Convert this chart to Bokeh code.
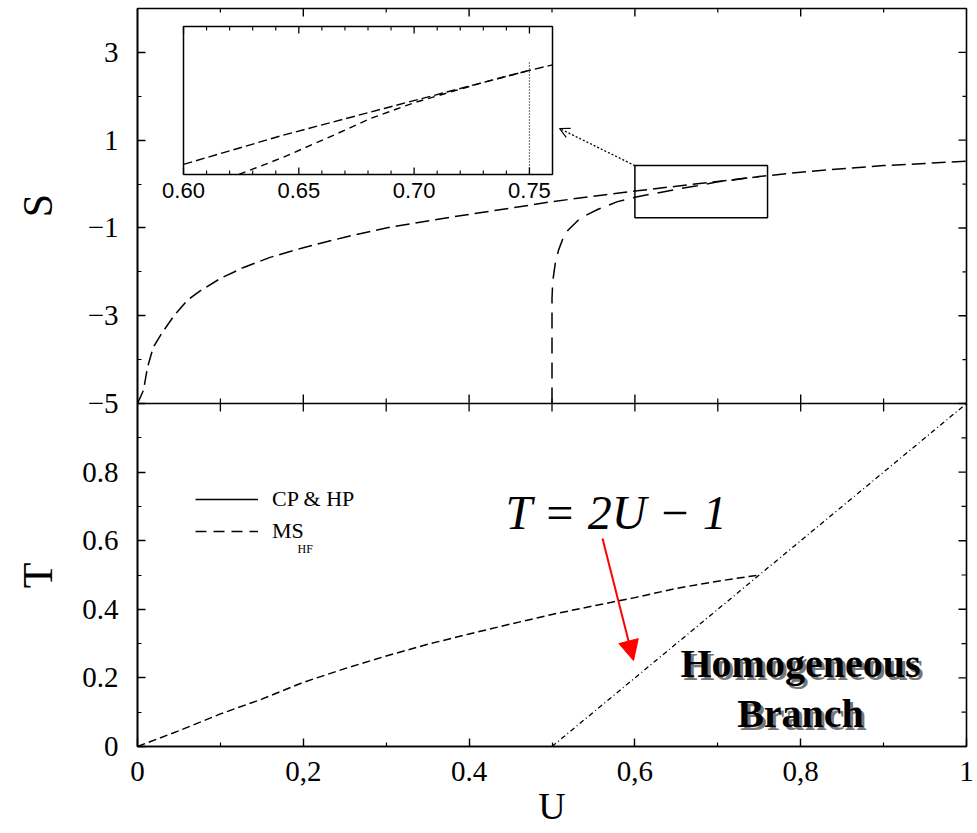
import math
from bokeh.plotting import figure
from bokeh.models import (Range1d, FixedTicker, CustomJSTickFormatter, Span, Label, Arrow,
                          NormalHead, OpenHead, Legend, LegendItem, LinearAxis)
from bokeh.core.properties import value
from bokeh.embed import file_html
from bokeh.resources import INLINE

# ---------------- data ----------------
# top panel: S versus U
u_cp_top = [0.0, 0.0072, 0.012, 0.019, 0.03, 0.044, 0.06, 0.076, 0.1, 0.128, 0.16, 0.2, 0.25,
            0.3, 0.35, 0.4, 0.45, 0.5, 0.55, 0.6, 0.65, 0.7, 0.75, 0.8, 0.85, 0.9, 0.95, 1.0]
s_cp_top = [-5.0, -4.7, -4.18, -3.72, -3.38, -3.0, -2.65, -2.43, -2.15, -1.9, -1.67, -1.45, -1.21,
            -1.0, -0.84, -0.69, -0.55, -0.4, -0.28, -0.16, -0.05, 0.06, 0.17, 0.27, 0.35, 0.42, 0.47, 0.52]
u_ms_top = [0.5, 0.5, 0.501, 0.504, 0.508, 0.513, 0.519, 0.534, 0.555, 0.579, 0.6, 0.625, 0.65,
            0.675, 0.7, 0.725, 0.75]
s_ms_top = [-5.0, -2.6, -2.2, -1.8, -1.5, -1.25, -1.06, -0.78, -0.58, -0.40, -0.30, -0.21, -0.12,
            -0.04, 0.05, 0.11, 0.17]

# inset (zoom of 0.60 <= U <= 0.76)
u_in_cp = [0.60, 0.643, 0.687, 0.73, 0.75, 0.76]
s_in_cp = [-0.163, -0.057, 0.041, 0.136, 0.18, 0.20]
u_in_ms = [0.624, 0.643, 0.665, 0.681, 0.70, 0.73, 0.75]
s_in_ms = [-0.20, -0.138, -0.057, 0.004, 0.062, 0.136, 0.18]
u_in_vline = 0.75
s_in_vline_top = 0.21
inset_u = (0.60, 0.76)
inset_s = (-0.20, 0.34)
inset_ticks = [0.60, 0.65, 0.70, 0.75]
inset_tick_labels = ["0.60", "0.65", "0.70", "0.75"]
inset_minor = [0.61, 0.62, 0.63, 0.64, 0.66, 0.67, 0.68, 0.69, 0.71, 0.72, 0.73, 0.74]
zoom_box_u = (0.60, 0.76)
zoom_box_s = (-0.77, 0.42)

# bottom panel: T versus U
u_cp_bot = [0.0, 0.05, 0.1, 0.15, 0.2, 0.25, 0.3, 0.35, 0.4, 0.45, 0.5, 0.55, 0.6, 0.65, 0.7, 0.75]
t_cp_bot = [0.0, 0.046, 0.095, 0.138, 0.187, 0.227, 0.264, 0.298, 0.328, 0.357, 0.385, 0.41,
            0.434, 0.461, 0.482, 0.5]
u_hom = [0.5, 1.0]
t_hom = [0.0, 1.0]

# axes ticks / labels
u_major = [0.0, 0.2, 0.4, 0.6, 0.8, 1.0]
u_major_labels = ["0", "0,2", "0.4", "0,6", "0,8", "1"]
u_minor = [0.1, 0.3, 0.5, 0.7, 0.9]
s_major = [3, 1, -1, -3, -5]
s_major_labels = ["3", "1", "\u22121", "\u22123", "\u22125"]
s_minor = [4, 2, 0, -2, -4]
t_major = [0.0, 0.2, 0.4, 0.6, 0.8]
t_major_labels = ["0", "0.2", "0.4", "0.6", "0.8"]
t_minor = [0.1, 0.3, 0.5, 0.7, 0.9]

# ---------------- layout (page pixels) ----------------
FL, FR, FT, SEP, FB = 137, 966, 8, 403, 746
FW = FR - FL
S_LO, S_HI = -5.0, 4.0
T_LO, T_HI = 0.0, 1.0
s_per_px = (S_HI - S_LO) / (SEP - FT)
t_per_px = (T_HI - T_LO) / (FB - SEP)


def t_to_main(t):
    return S_LO - (T_HI - t) / t_per_px * s_per_px


def px_u(px):
    return (px - FL) / FW


def px_s(py):
    return S_HI - (py - FT) * s_per_px


def px_t(py):
    return T_LO + (FB - py) * t_per_px


SERIF = "Liberation Serif"

p = figure(frame_width=FW, frame_height=FB - FT, output_backend="svg", toolbar_location=None,
           x_range=Range1d(0, 1), y_range=Range1d(S_LO - (FB - SEP) * s_per_px, S_HI),
           min_border_left=FL, min_border_top=FT, min_border_right=8, min_border_bottom=60)
p.extra_y_ranges = {"T": Range1d(T_LO, T_HI + (SEP - FT) * t_per_px)}

# inset ranges
IL, IR, IT, IB = 183, 552, 26, 174
ppu = (IR - IL) / (inset_u[1] - inset_u[0])
pps = (IB - IT) / (inset_s[1] - inset_s[0])
p.extra_x_ranges = {"ix": Range1d(inset_u[0] - (IL - FL) / ppu, inset_u[1] + (FR - IR) / ppu)}
p.extra_y_ranges["iy"] = Range1d(inset_s[0] - (FB - IB) / pps, inset_s[1] + (IT - FT) / pps)

p.grid.visible = False
p.outline_line_color = "black"
p.outline_line_width = 1.6
p.background_fill_color = "white"
p.border_fill_color = "white"

fmt_code = """
for (let i = 0; i < pos.length; i++) {
  if (Math.abs(pos[i] - tick) < 1e-6) { return labs[i]; }
}
return "";
"""

# left axis combining S (top) and T (bottom)
left_pos = list(s_major) + [t_to_main(t) for t in t_major]
left_labs = list(s_major_labels) + list(t_major_labels)
left_minor = list(s_minor) + [t_to_main(t) for t in t_minor]
ya = p.yaxis[0]
ya.ticker = FixedTicker(ticks=left_pos, minor_ticks=left_minor)
ya.formatter = CustomJSTickFormatter(args=dict(pos=left_pos, labs=left_labs), code=fmt_code)

xa = p.xaxis[0]
xa.ticker = FixedTicker(ticks=u_major, minor_ticks=u_minor)
xa.formatter = CustomJSTickFormatter(args=dict(pos=u_major, labs=u_major_labels), code=fmt_code)

for ax in (xa, ya):
    ax.major_tick_in = 8
    ax.major_tick_out = 0
    ax.minor_tick_in = 4
    ax.minor_tick_out = 0
    ax.axis_line_width = 1.6
    ax.major_tick_line_width = 1.4
    ax.minor_tick_line_width = 1.2
    ax.major_label_text_font = SERIF
    ax.major_label_text_font_size = "29px"
    ax.major_label_text_color = "black"
ya.major_label_standoff = 19
xa.major_label_standoff = 15
xa.axis_label = "U"
xa.axis_label_text_font = SERIF
xa.axis_label_text_font_size = "38px"
xa.axis_label_text_font_style = "normal"
xa.axis_label_text_color = "black"
xa.axis_label_standoff = 1

# outer left axis carrying the panel titles S and T
title_pos = [px_s(205), px_s(575)]
title_labs = ["S", "T"]
title_ax = LinearAxis(ticker=FixedTicker(ticks=title_pos, minor_ticks=[]),
                      formatter=CustomJSTickFormatter(args=dict(pos=title_pos, labs=title_labs),
                                                      code=fmt_code),
                      axis_line_alpha=0, major_tick_line_alpha=0, minor_tick_line_alpha=0,
                      major_tick_in=0, major_tick_out=0, minor_tick_in=0, minor_tick_out=0,
                      major_label_orientation="vertical", major_label_text_font=SERIF,
                      major_label_text_font_size="42px", major_label_text_color="black",
                      major_label_standoff=19)
p.add_layout(title_ax, "left")

# extra ticks: top edge, separator, right edge
p.ray(x=u_major[1:-1], y=[S_HI] * 4, length=8, length_units="screen", angle=-math.pi / 2,
      line_color="black", line_width=1.4)
p.ray(x=u_minor, y=[S_HI] * 5, length=4, length_units="screen", angle=-math.pi / 2,
      line_color="black", line_width=1.2)
p.ray(x=u_major[1:-1], y=[S_LO] * 4, length=9, length_units="screen", angle=math.pi / 2,
      line_color="black", line_width=1.4)
p.ray(x=u_minor, y=[S_LO] * 5, length=5, length_units="screen", angle=math.pi / 2,
      line_color="black", line_width=1.2)
p.ray(x=u_major[1:-1] + u_minor, y=[T_HI] * 9, length=8, length_units="screen", angle=-math.pi / 2,
      line_color="black", line_width=1.3, y_range_name="T")
p.ray(x=[1.0] * 5, y=s_major, length=8, length_units="screen", angle=math.pi,
      line_color="black", line_width=1.4)
p.ray(x=[1.0] * 5, y=s_minor, length=4, length_units="screen", angle=math.pi,
      line_color="black", line_width=1.2)
p.ray(x=[1.0] * 4, y=t_major[1:], length=8, length_units="screen", angle=math.pi,
      line_color="black", line_width=1.4, y_range_name="T")
p.ray(x=[1.0] * 5, y=t_minor, length=5, length_units="screen", angle=math.pi,
      line_color="black", line_width=1.2, y_range_name="T")

# separator between panels
p.add_layout(Span(location=S_LO, dimension="width", line_color="black", line_width=1.6))

# ---------------- top panel curves ----------------
p.line(u_cp_top, s_cp_top, line_color="black", line_width=1.5, line_dash="14 6")
p.line(u_ms_top, s_ms_top, line_color="black", line_width=1.5, line_dash="16 9")

# zoom box
p.quad(left=zoom_box_u[0], right=zoom_box_u[1], bottom=zoom_box_s[0], top=zoom_box_s[1],
       fill_alpha=0, line_color="black", line_width=1.5)

# inset
p.quad(left=inset_u[0], right=inset_u[1], bottom=inset_s[0], top=inset_s[1],
       fill_color="white", line_color="black", line_width=1.5, x_range_name="ix", y_range_name="iy")
p.line(u_in_cp, s_in_cp, line_color="black", line_width=1.4, line_dash="9 4",
       x_range_name="ix", y_range_name="iy")
p.line(u_in_ms, s_in_ms, line_color="black", line_width=1.4, line_dash="7 5",
       x_range_name="ix", y_range_name="iy")
p.segment(x0=[u_in_vline], y0=[inset_s[0]], x1=[u_in_vline], y1=[s_in_vline_top],
          line_color="black", line_width=1.2, line_dash="1 2", x_range_name="ix", y_range_name="iy")
p.ray(x=inset_ticks, y=[inset_s[0]] * 4, length=7, length_units="screen", angle=math.pi / 2,
      line_color="black", line_width=1.3, x_range_name="ix", y_range_name="iy")
p.ray(x=inset_minor, y=[inset_s[0]] * len(inset_minor), length=4, length_units="screen",
      angle=math.pi / 2, line_color="black", line_width=1.1, x_range_name="ix", y_range_name="iy")
p.ray(x=inset_ticks, y=[inset_s[1]] * 4, length=7, length_units="screen", angle=-math.pi / 2,
      line_color="black", line_width=1.3, x_range_name="ix", y_range_name="iy")
p.ray(x=inset_minor, y=[inset_s[1]] * len(inset_minor), length=4, length_units="screen",
      angle=-math.pi / 2, line_color="black", line_width=1.1, x_range_name="ix", y_range_name="iy")
p.text(x=inset_ticks, y=[inset_s[0]] * 4, text=inset_tick_labels, x_range_name="ix", y_range_name="iy",
       text_align="center", text_baseline="top", y_offset=8,
       text_font=value("Liberation Sans"), text_font_size="22px", text_color="black")

# connector from zoom box to inset
p.add_layout(Arrow(end=OpenHead(size=10, line_color="black", line_width=1.2),
                   x_start=zoom_box_u[0], y_start=zoom_box_s[1], x_end=px_u(559), y_end=px_s(128),
                   line_color="black", line_width=1.3, line_dash="2 2"))

# ---------------- bottom panel curves ----------------
p.line(u_cp_bot, t_cp_bot, line_color="black", line_width=1.5, line_dash="8 4", y_range_name="T")
p.line(u_hom, t_hom, line_color="black", line_width=1.3, line_dash="5 3 1 3", y_range_name="T")

# legend (samples follow legend styles; no visible data of their own)
nan = float("nan")
r_leg_cp = p.line(x=[nan, nan], y=[nan, nan], line_color="black", line_width=1.5)
r_leg_ms = p.line(x=[nan, nan], y=[nan, nan], line_color="black", line_width=1.5, line_dash="11 7")
legend = Legend(items=[LegendItem(label="CP & HP", renderers=[r_leg_cp]),
                       LegendItem(label="MS", renderers=[r_leg_ms])],
                location=(195 - FL, FB - 544), padding=0, spacing=6, glyph_width=63, glyph_height=24,
                label_height=24, label_standoff=14, label_text_font=SERIF, label_text_font_size="22px",
                label_text_color="black", background_fill_alpha=0, border_line_alpha=0, margin=0)
p.add_layout(legend)
p.add_layout(Label(x=px_u(297), y=px_t(548), y_range_name="T", text="HF", text_font=SERIF,
                   text_font_size="12px", text_align="left", text_baseline="middle", text_color="black"))

# formula + arrow
p.add_layout(Label(x=px_u(616), y=px_t(512), y_range_name="T", text="T = 2U \u2212 1",
                   text_font=SERIF, text_font_style="italic", text_font_size="48px",
                   text_align="center", text_baseline="middle", text_color="black"))
p.add_layout(Arrow(end=NormalHead(size=20, fill_color="red", line_color="red"),
                   x_start=px_u(602), y_start=px_t(538), x_end=px_u(633), y_end=px_t(660),
                   y_range_name="T", line_color="red", line_width=2))

# Homogeneous Branch (with shadow)
for txt, py in (("Homogeneous", 663), ("Branch", 713)):
    p.add_layout(Label(x=px_u(800), y=px_t(py), y_range_name="T", text=txt, x_offset=3, y_offset=-3,
                       text_font=SERIF, text_font_style="bold", text_font_size="40px",
                       text_align="center", text_baseline="middle", text_color="#777777"))
    p.add_layout(Label(x=px_u(800), y=px_t(py), y_range_name="T", text=txt,
                       text_font=SERIF, text_font_style="bold", text_font_size="40px",
                       text_align="center", text_baseline="middle", text_color="black"))

open("out.html", "w", encoding="utf-8").write(file_html(p, INLINE))
